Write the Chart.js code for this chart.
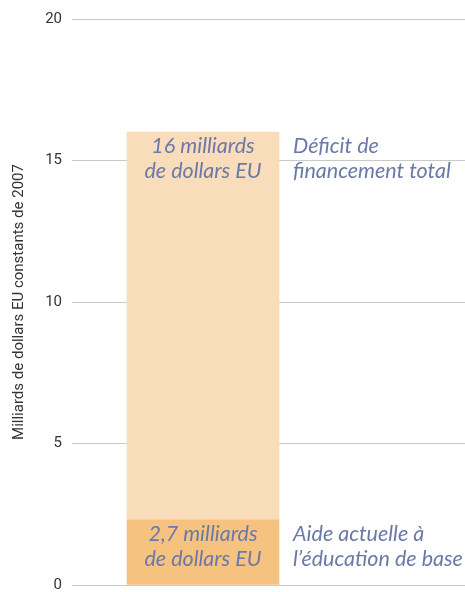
<!DOCTYPE html>
<html>
<head>
<meta charset="utf-8">
<script src="https://cdn.jsdelivr.net/npm/chart.js@4"></script>
<style>
  html, body { margin: 0; padding: 0; background: #fff; }
  #wrap { width: 465px; height: 592px; }
</style>
</head>
<body>
<div id="wrap"><canvas id="chart"></canvas></div>
<script>
// data
const barPos = [1];
const currentAid = [2.3];
const fundingGap = [13.7];
const yTicks = [0, 5, 10, 15, 20];
const insideLabels = [['2,7 milliards', 'de dollars EU'], ['16 milliards', 'de dollars EU']];
const sideLabels = [['Aide actuelle à', 'l\u2019éducation de base'], ['Déficit de', 'financement total']];

const textColor = '#6a79a8';

// draws the italic notes in and next to each bar segment
const notesPlugin = {
    id: 'notes',
    afterDatasetsDraw(chart) {
        const ctx = chart.ctx;
        ctx.save();
        ctx.font = 'italic 21.5px Lato, "Open Sans", sans-serif';
        ctx.fillStyle = textColor;
        ctx.textBaseline = 'middle';
        chart.data.datasets.forEach((ds, i) => {
            const bar = chart.getDatasetMeta(i).data[0];
            const top = bar.y;
            const half = bar.width / 2;
            insideLabels[i].forEach((line, k) => {
                ctx.textAlign = 'center';
                ctx.fillText(line, bar.x, top + 14 + k * 25);
            });
            sideLabels[i].forEach((line, k) => {
                ctx.textAlign = 'left';
                ctx.fillText(line, bar.x + half + 14, top + 14 + k * 25);
            });
        });
        ctx.restore();
    }
};

const ctx = document.getElementById('chart').getContext('2d');
new Chart(ctx, {
    type: 'bar',
    data: {
        datasets: [
            {
                label: 'Aide actuelle',
                data: barPos.map((x, i) => ({ x: x, y: currentAid[i] })),
                backgroundColor: '#f5c27f',
                barThickness: 152
            },
            {
                label: 'Déficit',
                data: barPos.map((x, i) => ({ x: x, y: fundingGap[i] })),
                backgroundColor: '#f9ddba',
                barThickness: 152
            }
        ]
    },
    options: {
        responsive: true,
        maintainAspectRatio: false,
        animation: false,
        layout: { padding: { top: 19, bottom: 7, right: 0, left: 0 } },
        plugins: {
            legend: { display: false },
            tooltip: { enabled: false }
        },
        scales: {
            x: {
                type: 'linear',
                stacked: true,
                offset: false,
                min: 0,
                max: 3,
                display: false
            },
            y: {
                stacked: true,
                min: 0,
                max: 20,
                afterBuildTicks: (scale) => { scale.ticks = yTicks.map(v => ({ value: v })); },
                afterFit: (scale) => {
                    scale.width = 72;
                    scale.paddingTop = 0;
                    scale.paddingBottom = 0;
                },
                border: { display: false },
                grid: { color: '#c9c9c9', lineWidth: 1, drawTicks: false },
                ticks: {
                    padding: 10,
                    color: '#333',
                    font: { family: '"Liberation Sans Narrow", "Roboto", sans-serif', size: 15 }
                },
                title: {
                    display: true,
                    text: 'Milliards de dollars EU constants de 2007',
                    color: '#333',
                    padding: { top: 10, bottom: 0 },
                    font: { family: '"Liberation Sans Narrow", "Roboto", sans-serif', size: 15 }
                }
            }
        }
    },
    plugins: [notesPlugin]
});
</script>
</body>
</html>
